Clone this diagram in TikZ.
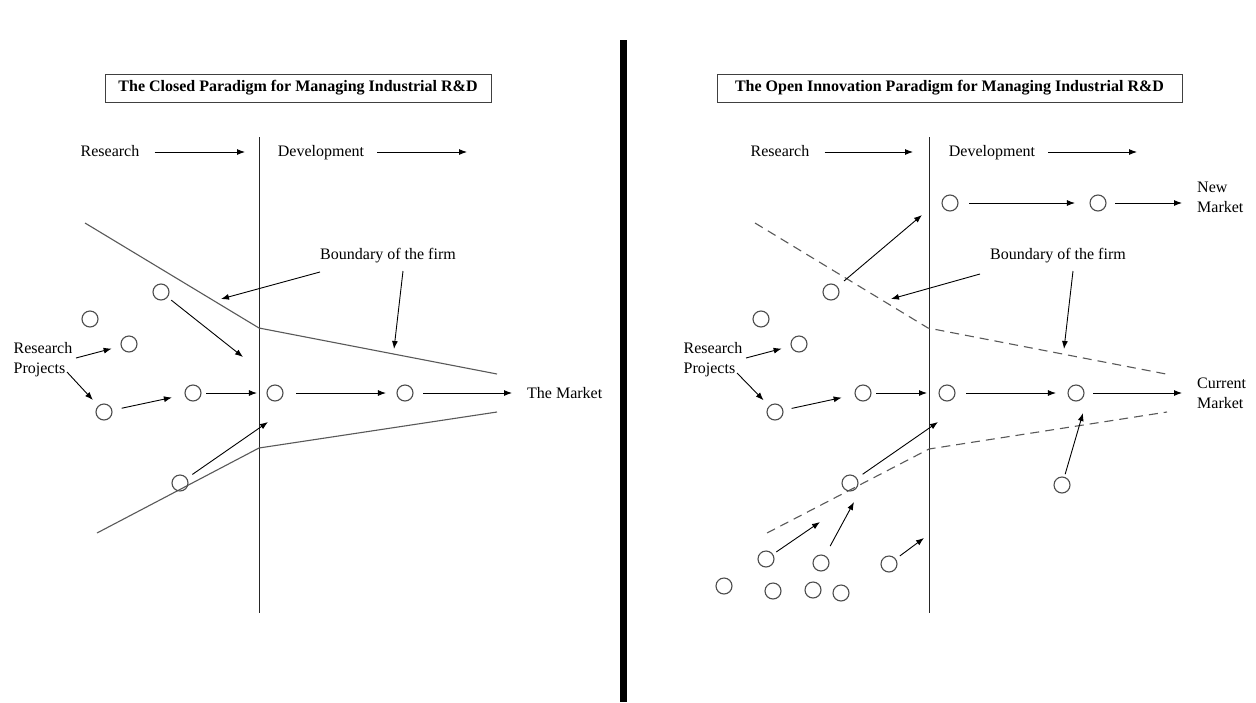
\documentclass[tikz,border=0pt]{standalone}
\usepackage{fontspec}
\setmainfont{Liberation Serif}
\usetikzlibrary{arrows.meta,calc}
\begin{document}
\begin{tikzpicture}[x=1pt,y=-1pt,
  every node/.style={font=\fontsize{16}{20}\selectfont, inner sep=0pt},
  phasetxt/.style={text height=11pt, text depth=3.5pt},
  proj/.style={circle, draw=black!70, line width=1.1pt, minimum size=16pt, inner sep=0pt},
  arr/.style={draw=black, line width=0.9pt, -{Latex[length=8pt,width=6pt]}},
  bound/.style={draw=black!65, line width=1.1pt},
  dbound/.style={bound, dash pattern=on 9pt off 6pt},
  phase/.style={draw=black!85, line width=1pt},
  titlebox/.style={draw=black!75, line width=1pt, font=\bfseries\fontsize{16}{20}\selectfont, minimum height=28pt},
  lbl/.style={align=left, font=\fontsize{16}{20}\selectfont}
]
\useasboundingbox (0,0) rectangle (1256,702);
\fill[white] (0,0) rectangle (1256,702);
\fill[black] (620,40) rectangle (627,702);

% ================= LEFT: closed paradigm =================
\node[titlebox, minimum width=386pt] (tL) at (298,88) {The Closed Paradigm for Managing Industrial R\&D};
\node[phasetxt] (resL) at (110,153) {Research};
\node[phasetxt] (devL) at (321,153) {Development};
\coordinate (resLe) at (245,152);
\coordinate (devLe) at (467,152);
\draw[arr] ([xshift=15pt]resL.east |- resLe) -- (resLe);
\draw[arr] ([xshift=13pt]devL.east |- devLe) -- (devLe);

\coordinate (vLt) at (259,137);
\coordinate (vLb) at (259,613);
\draw[phase] (vLt) -- (vLb);

\coordinate (bL1) at (85,223);
\coordinate (bL2) at (259,328);
\coordinate (bL3) at (497,374);
\coordinate (bL4) at (97,533);
\coordinate (bL5) at (259,448);
\coordinate (bL6) at (497,412);
\draw[bound] (bL1) -- (bL2) -- (bL3);
\draw[bound] (bL4) -- (bL5) -- (bL6);

\node[proj] (L1) at (161,292) {};
\node[proj] (L2) at (90,319) {};
\node[proj] (L3) at (129,344) {};
\node[proj] (L4) at (104,412) {};
\node[proj] (L5) at (193,393) {};
\node[proj] (L6) at (275,393) {};
\node[proj] (L7) at (405,393) {};
\node[proj] (L8) at (180,483) {};

\node[lbl] (lblL) at (43,360) {Research\\Projects};
\coordinate (lLa) at (76,358);
\coordinate (lLb) at (67,372);
\draw[arr, shorten >=9.4pt] (lLa) -- (L3);
\draw[arr, shorten >=7.8pt] (lLb) -- (L4);

\draw[arr, shorten <=9.5pt, shorten >=13pt] (L4) -- (L5);
\draw[arr, shorten <=4.5pt, shorten >=9.5pt] (L5) -- (L6);
\draw[arr, shorten <=12.5pt, shorten >=10.5pt] (L6) -- (L7);
\node[anchor=west] (mkL) at (527,393) {The Market};
\draw[arr, shorten <=9.5pt, shorten >=15pt] (L7) -- (L7 -| mkL.west);

\coordinate (aL1) at (243,357);
\draw[arr, shorten <=4.5pt] (L1) -- (aL1);
\coordinate (aL2) at (268,422);
\draw[arr, shorten <=6.5pt] (L8) -- (aL2);

\node (bdL) at (388,256) {Boundary of the firm};
\coordinate (bdLa) at (320,272);
\coordinate (bdLae) at (221,299);
\coordinate (bdLb) at (403,271);
\coordinate (bdLbe) at (394,349);
\draw[arr] (bdLa) -- (bdLae);
\draw[arr] (bdLb) -- (bdLbe);

% ================= RIGHT: open innovation =================
\node[titlebox, minimum width=465pt] (tR) at (949.5,88) {The Open Innovation Paradigm for Managing Industrial R\&D};
\node[phasetxt] (resR) at (780,153) {Research};
\node[phasetxt] (devR) at (992,153) {Development};
\coordinate (resRe) at (913,152);
\coordinate (devRe) at (1137,152);
\draw[arr] ([xshift=15pt]resR.east |- resRe) -- (resRe);
\draw[arr] ([xshift=13pt]devR.east |- devRe) -- (devRe);

\coordinate (vRt) at (929,137);
\coordinate (vRb) at (929,613);
\draw[phase] (vRt) -- (vRb);

\coordinate (bR1) at (755,223);
\coordinate (bR2) at (928,328);
\coordinate (bR3) at (1166,374);
\coordinate (bR4) at (767,533);
\coordinate (bR5) at (929,449);
\coordinate (bR6) at (1167,412);
\draw[dbound] (bR1) -- (bR2) -- (bR3);
\draw[dbound] (bR4) -- (bR5) -- (bR6);

\node[proj] (R1) at (831,292) {};
\node[proj] (R2) at (761,319) {};
\node[proj] (R3) at (799,344) {};
\node[proj] (R4) at (775,412) {};
\node[proj] (R5) at (863,393) {};
\node[proj] (R6) at (947,393) {};
\node[proj] (R7) at (1076,393) {};
\node[proj] (R8) at (850,483) {};
\node[proj] (R9) at (1062,485) {};
\node[proj] (T1) at (950,203) {};
\node[proj] (T2) at (1098,203) {};
\node[proj] (B1) at (766,559) {};
\node[proj] (B2) at (821,563) {};
\node[proj] (B3) at (889,564) {};
\node[proj] (B4) at (724,586) {};
\node[proj] (B5) at (773,591) {};
\node[proj] (B6) at (813,590) {};
\node[proj] (B7) at (841,593) {};

\node[lbl] (lblR) at (713,360) {Research\\Projects};
\coordinate (lRa) at (746,358);
\coordinate (lRb) at (737,373);
\draw[arr, shorten >=9.4pt] (lRa) -- (R3);
\draw[arr, shorten >=7.8pt] (lRb) -- (R4);

\draw[arr, shorten <=8.5pt, shorten >=13.3pt] (R4) -- (R5);
\coordinate (aR5) at (927,393);
\draw[arr, shorten <=4.5pt] (R5) -- (aR5);
\draw[arr, shorten <=10.5pt, shorten >=11.5pt] (R6) -- (R7);
\node[lbl, anchor=west] (mkR) at (1197,393) {Current\\Market};
\draw[arr, shorten <=8.5pt, shorten >=15pt] (R7) -- (R7 -| mkR.west);

\draw[arr, shorten <=10.5pt, shorten >=14.5pt] (T1) -- (T2);
\node[lbl, anchor=west] (nmR) at (1197,197) {New\\Market};
\draw[arr, shorten <=8.5pt, shorten >=15pt] (T2) -- (T2 -| nmR.west);

\coordinate (aR1) at (922,215);
\draw[arr, shorten <=8.5pt] (R1) -- (aR1);
\coordinate (aR8) at (938,422);
\draw[arr, shorten <=6.8pt] (R8) -- (aR8);
\coordinate (aR9) at (1083,413);
\draw[arr, shorten <=2.7pt] (R9) -- (aR9);
\coordinate (aB1) at (820,522);
\draw[arr, shorten <=3.9pt] (B1) -- (aB1);
\coordinate (aB2) at (854,502);
\draw[arr, shorten <=10.7pt] (B2) -- (aB2);
\coordinate (aB3) at (924,538);
\draw[arr, shorten <=4.9pt] (B3) -- (aB3);

\node (bdR) at (1058,256) {Boundary of the firm};
\coordinate (bdRa) at (980,274);
\coordinate (bdRae) at (891,299);
\coordinate (bdRb) at (1073,271);
\coordinate (bdRbe) at (1064,349);
\draw[arr] (bdRa) -- (bdRae);
\draw[arr] (bdRb) -- (bdRbe);
\end{tikzpicture}
\end{document}
